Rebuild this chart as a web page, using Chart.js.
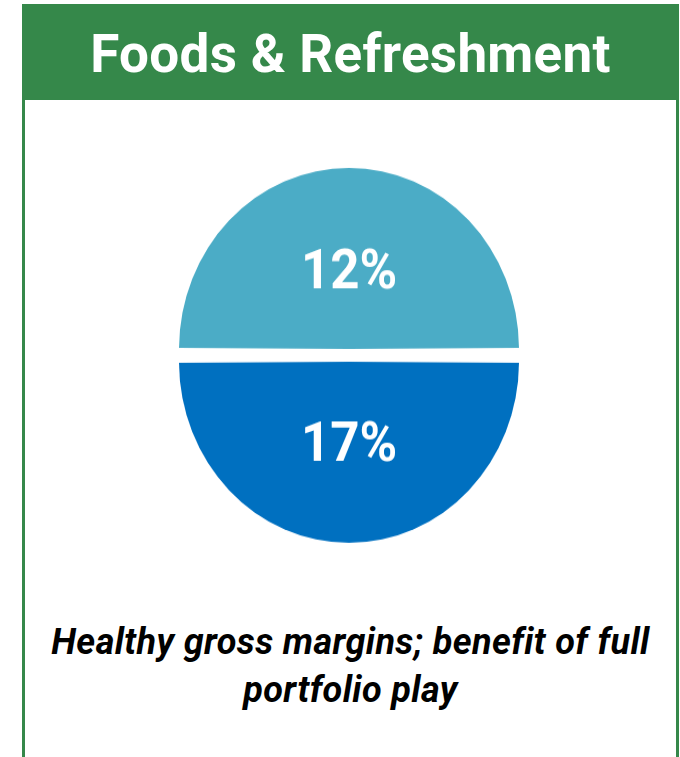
<!DOCTYPE html>
<html>
<head>
<meta charset="utf-8">
<script src="https://cdn.jsdelivr.net/npm/chart.js@4"></script>
<style>
  html, body { margin: 0; padding: 0; background: #fff; }
  body { width: 680px; height: 757px; position: relative; overflow: hidden; font-family: Roboto, "DejaVu Sans", sans-serif; }
  .panel {
    position: absolute; left: 22px; top: 4px; width: 651px; height: 800px;
    border: 3px solid #35884a; border-top: none; border-bottom: none;
  }
  .panel h1 {
    margin: 0; height: 96px; background: #35884a; color: #fff;
    font-size: 53px; font-weight: 700; line-height: 100px; text-align: center;
    letter-spacing: 0.3px;
  }
  .pie-wrap {
    position: absolute; left: 159px; top: 153px; width: 380px; height: 380px;
    transform: scaleY(1.065); transform-origin: 0 0;
  }
  .note {
    position: absolute; left: 22px; width: 657px; top: 618px;
    text-align: center; font-size: 36px; font-weight: 700; font-style: italic;
    letter-spacing: 0.4px; line-height: 48px; color: #000;
  }
</style>
</head>
<body>
<div class="panel"><h1>Foods &amp; Refreshment</h1></div>
<div class="pie-wrap"><canvas id="pie" width="380" height="380" style="width:380px;height:380px"></canvas></div>
<div class="note">Healthy gross margins; benefit of full<br>portfolio play</div>
<script>
const halves = ["Upper", "Lower"]
const halfShare = [50, 50]
const grossMargin = [12, 17]
const halfColors = ["#4bacc6", "#0070c0"]

// arc offset is drawn at a quarter of its value, so 24 gives ~6px per half
const SPLIT = 24.4

// white % figure in the middle of each half
const marginLabels = {
	id: "marginLabels",
	afterDatasetsDraw(chart) {
		const ctx = chart.ctx
		const arcs = chart.getDatasetMeta(0).data
		const size = 51
		ctx.save()
		ctx.fillStyle = "#fff"
		ctx.font = `700 ${size}px Roboto`
		ctx.textAlign = "center"
		ctx.textBaseline = "alphabetic"
		arcs.forEach((arc, i) => {
			const { x, y, startAngle, endAngle, outerRadius } = arc.getProps(["x", "y", "startAngle", "endAngle", "outerRadius"], true)
			const mid = (startAngle + endAngle) / 2
			const dist = outerRadius * 0.455 + arc.options.offset / 4
			const cx = x + Math.cos(mid) * dist
			const cy = y + Math.sin(mid) * dist
			ctx.fillText(grossMargin[i] + "%", cx, cy + size * 0.711 / 2)
		})
		ctx.restore()
	}
}

new Chart(document.getElementById("pie"), {
	type: "pie",
	data: {
		labels: halves,
		datasets: [{
			data: halfShare,
			backgroundColor: halfColors,
			borderWidth: 0,
			offset: SPLIT,
			radius: 170 - SPLIT / 4,
		}],
	},
	options: {
		responsive: false,
		animation: false,
		rotation: -90,
		events: [],
		plugins: {
			legend: { display: false },
			tooltip: { enabled: false },
		},
	},
	plugins: [marginLabels],
});
</script>
</body>
</html>
